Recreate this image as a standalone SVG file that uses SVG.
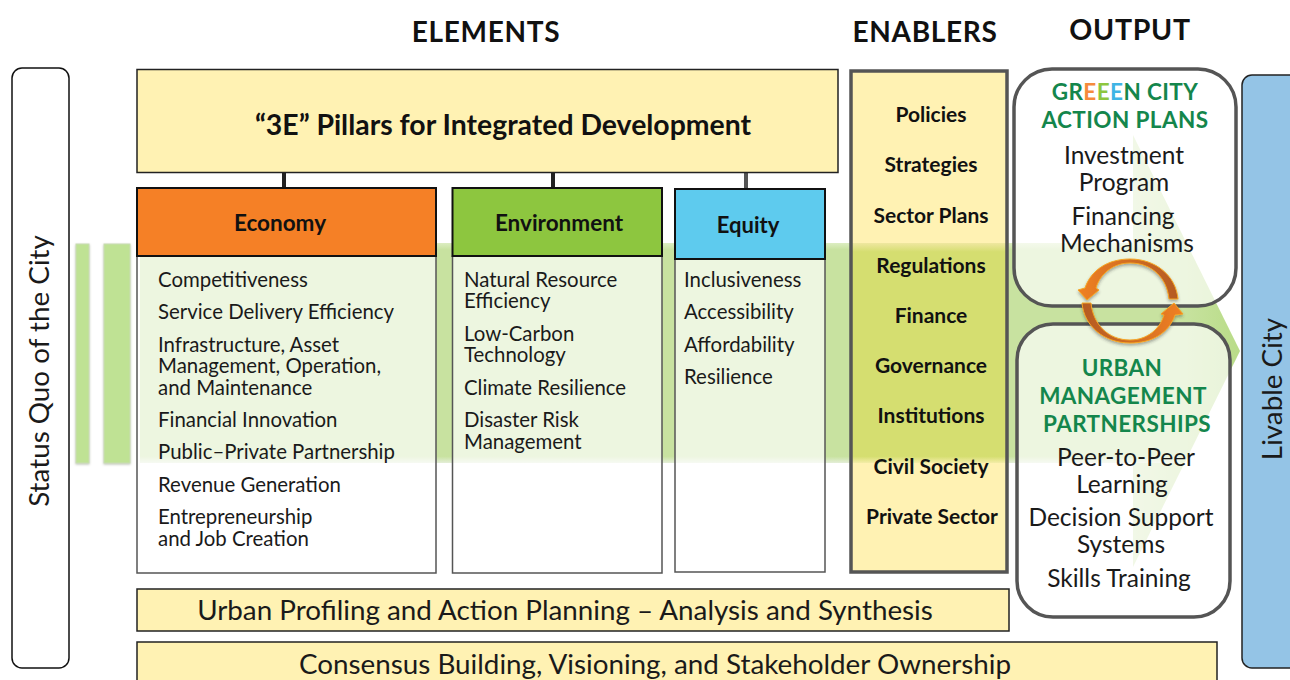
<svg xmlns="http://www.w3.org/2000/svg" width="1290" height="680" viewBox="0 0 1290 680">
<style>
text{font-family:"Lato","Liberation Sans",sans-serif;fill:#1a1a1a}
.h{font-size:28px;font-weight:700;letter-spacing:.7px;text-anchor:middle;fill:#111}
.y{fill:#fff2b3;stroke:#222;stroke-width:1.5}
.b{fill:#fff;fill-opacity:.68;stroke:#555;stroke-width:1.5}
.hd{stroke:#111;stroke-width:2}
.ht{font-size:22.5px;font-weight:700;text-anchor:middle;fill:#111}
.t{font-size:20.4px;font-weight:400}
.e{font-size:21px;font-weight:700;text-anchor:middle;fill:#111}
.g{font-size:22.5px;font-weight:700;text-anchor:middle;fill:#14864c;letter-spacing:.4px}
.o{font-size:24.5px;text-anchor:middle}
.out{fill:#fff;fill-opacity:.68;stroke:#555;stroke-width:3.5}
.c{stroke:#222;stroke-width:4}
.bar{fill:#bfe294;stroke:#c9dcb4;stroke-width:1;filter:url(#sh)}
.big{font-size:27.8px;text-anchor:middle}
</style>
<defs>
<filter id="sh" x="-30%" y="-5%" width="160%" height="110%"><feDropShadow dx="0" dy="1" stdDeviation="1.2" flood-color="#667755" flood-opacity=".45"/></filter>
<filter id="sh2" x="-10%" y="-10%" width="120%" height="125%"><feDropShadow dx="0" dy="2" stdDeviation="1.5" flood-color="#333" flood-opacity=".4"/></filter>
<linearGradient id="band" x1="0" y1="0" x2="0" y2="1"><stop offset="0" stop-color="#dcedc2"/><stop offset=".03" stop-color="#c8e2a0"/><stop offset=".97" stop-color="#c8e2a0"/><stop offset="1" stop-color="#e4eed8"/></linearGradient>
<linearGradient id="en" x1="0" y1="0" x2="0" y2="1"><stop offset="0" stop-color="#efe7a0"/><stop offset=".04" stop-color="#d5de70"/><stop offset=".97" stop-color="#d5de70"/><stop offset="1" stop-color="#f4eda8"/></linearGradient>
<linearGradient id="tri" x1="0" y1="0" x2="1" y2="0"><stop offset="0" stop-color="#d4e8b4"/><stop offset="1" stop-color="#b9dc88"/></linearGradient>
<linearGradient id="arcG" x1="0" y1="0" x2="1" y2="0"><stop offset="0" stop-color="#f08020"/><stop offset="1" stop-color="#b45a20"/></linearGradient>
<linearGradient id="arcH" x1="1" y1="0" x2="0" y2="0"><stop offset="0" stop-color="#f08020"/><stop offset="1" stop-color="#b45a20"/></linearGradient>
</defs>

<g id="flow">
<polygon points="1133,135 1240,351 1133,567" fill="url(#tri)"/>
<rect x="140" y="243" width="1040" height="220" fill="url(#band)"/>
</g>
<g id="bars"><rect class="bar" x="76" y="244" width="13" height="219"/><rect class="bar" x="104" y="244" width="26" height="219"/></g>

<g id="status-quo"><rect x="12" y="68" width="57" height="600" rx="10" fill="#fff" stroke="#111" stroke-width="1.5"/><text class="big" transform="translate(49,371) rotate(-90)">Status Quo of the City</text></g>
<g id="livable"><rect x="1242" y="75" width="70" height="593" rx="10" fill="#94c4e6" stroke="#222" stroke-width="1.5"/><text class="big" transform="translate(1282,389) rotate(-90)">Livable City</text></g>

<g id="connectors"><line class="c" x1="284" y1="172" x2="284" y2="188"/><line class="c" x1="553" y1="172" x2="553" y2="188"/><line x1="746" y1="172" x2="746" y2="189" stroke="#555" stroke-width="4"/></g>

<text class="h" x="486" y="42">ELEMENTS</text>
<text class="h" x="925" y="42">ENABLERS</text>
<text class="h" x="1130" y="40" style="font-size:28.5px">OUTPUT</text>

<g id="pillars"><rect class="y" x="137" y="69.5" width="701" height="103"/><text x="503" y="135" font-size="28.4" font-weight="700" text-anchor="middle" style="fill:#111">“3E” Pillars for Integrated Development</text></g>

<g id="economy"><rect class="b" x="137" y="256" width="299" height="317"/><rect class="hd" x="137" y="188" width="299" height="68" fill="#f58026"/><text class="ht" x="280" y="231">Economy</text>
<text class="t" x="158" y="286.5">Competitiveness</text><text class="t" x="158" y="318.5">Service Delivery Efficiency</text><text class="t" x="158" y="351.5">Infrastructure, Asset</text><text class="t" x="158" y="372.5">Management, Operation,</text><text class="t" x="158" y="394.5">and Maintenance</text><text class="t" x="158" y="426.5">Financial Innovation</text><text class="t" x="158" y="458.5">Public–Private Partnership</text><text class="t" x="158" y="491.5">Revenue Generation</text><text class="t" x="158" y="523.5">Entrepreneurship</text><text class="t" x="158" y="545.5">and Job Creation</text></g>

<g id="environment"><rect class="b" x="452.5" y="256" width="209.5" height="317"/><rect class="hd" x="452.5" y="188" width="209.5" height="68" fill="#8dc63f"/><text class="ht" x="559" y="231">Environment</text>
<text class="t" x="464" y="286.5">Natural Resource</text><text class="t" x="464" y="307.5">Efficiency</text><text class="t" x="464" y="340.5">Low-Carbon</text><text class="t" x="464" y="361.5">Technology</text><text class="t" x="464" y="394.5">Climate Resilience</text><text class="t" x="464" y="426.5">Disaster Risk</text><text class="t" x="464" y="448.5">Management</text></g>

<g id="equity"><rect class="b" x="675" y="259" width="150" height="313"/><rect class="hd" x="675" y="189" width="150" height="70" fill="#5ecbee"/><text class="ht" x="748" y="233" style="font-size:22px">Equity</text>
<text class="t" x="684" y="286.5">Inclusiveness</text><text class="t" x="684" y="318.5">Accessibility</text><text class="t" x="684" y="351.5">Affordability</text><text class="t" x="684" y="383.5">Resilience</text></g>

<g id="enablers"><rect x="851" y="71" width="156" height="501" fill="#fff2b3"/><rect x="851" y="243" width="156" height="220" fill="url(#en)"/><rect x="851" y="71" width="156" height="501" fill="none" stroke="#555" stroke-width="3.5"/>
<text class="e" x="931" y="122">Policies</text><text class="e" x="931" y="172">Strategies</text><text class="e" x="931" y="223">Sector Plans</text><text class="e" x="931" y="273">Regulations</text><text class="e" x="931" y="323">Finance</text><text class="e" x="931" y="373">Governance</text><text class="e" x="931" y="423">Institutions</text><text class="e" x="931" y="474">Civil Society</text><text class="e" x="932" y="524">Private Sector</text></g>

<g id="profiling"><rect class="y" x="137" y="589" width="872" height="42"/><text class="big" x="565" y="620">Urban Profiling and Action Planning – Analysis and Synthesis</text></g>
<g id="consensus"><rect class="y" x="137" y="642" width="1080" height="50"/><text class="big" x="655" y="674">Consensus Building, Visioning, and Stakeholder Ownership</text></g>

<g id="action-plans"><rect class="out" x="1014" y="69" width="222" height="237" rx="38"/>
<text class="g" x="1125" y="100">GR<tspan style="fill:#f58a3c">E</tspan><tspan style="fill:#8dc63f">E</tspan><tspan style="fill:#3fb4e5">E</tspan>N CITY</text><text class="g" x="1125" y="128">ACTION PLANS</text>
<text class="o" x="1124" y="163.5">Investment</text><text class="o" x="1124" y="190.5">Program</text><text class="o" x="1123" y="224.5">Financing</text><text class="o" x="1127" y="251.5">Mechanisms</text></g>
<g id="partnerships"><rect class="out" x="1017" y="324" width="213" height="293" rx="36"/>
<text class="g" x="1122" y="376">URBAN</text><text class="g" x="1123" y="404">MANAGEMENT</text><text class="g" x="1127" y="432">PARTNERSHIPS</text>
<text class="o" x="1126" y="465.5">Peer-to-Peer</text><text class="o" x="1122" y="492.5">Learning</text><text class="o" x="1121" y="525.5">Decision Support</text><text class="o" x="1121" y="552.5">Systems</text><text class="o" x="1119" y="586.5">Skills Training</text></g>

<g id="cycle" stroke="#f5a623" stroke-width="1" filter="url(#sh2)">
<path d="M1178,299 L1169,299 C1167,278 1152,263 1130,263 C1113,263 1100,274 1096,288 L1099,290 L1087,300 L1078,290 L1085,288 C1091,270 1108,259 1130,259 C1156,259 1176,276 1178,299 Z" fill="url(#arcG)"/>
<path d="M1082,303 L1091,303 C1093,324 1108,340 1130,340 C1147,340 1160,329 1164,315 L1161,314 L1174,303 L1183,314 L1175,315 C1169,333 1152,343 1130,343 C1104,343 1084,326 1082,303 Z" fill="url(#arcH)"/>
</g>
</svg>
